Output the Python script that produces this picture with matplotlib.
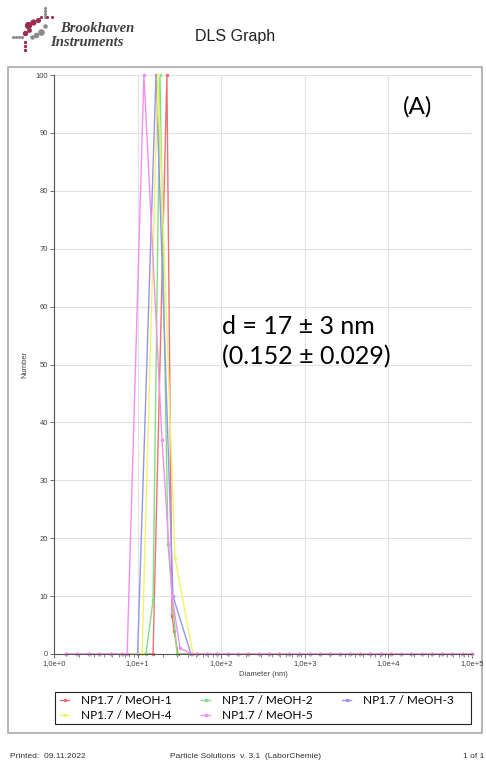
import matplotlib
matplotlib.use('Agg')
import matplotlib.pyplot as plt
from matplotlib.patches import Rectangle
from matplotlib.ticker import FixedLocator, FixedFormatter, LogLocator, NullFormatter

# zero baseline points shared by the runs (nm)
BASE_LO = [1.4, 1.9, 2.6, 3.5, 4.8, 6.5]
BASE_HI = [52, 68, 90, 120, 160, 210, 280, 370, 490, 650, 860, 1150, 1500, 2000,
           2650, 3500, 4600, 6100, 8100, 10700, 14200, 18800, 25000, 33000, 44000,
           58000, 77000, 100000]

# peak region of each run: diameter (nm) and number
red_d = [15.3, 22.4, 25.8, 27.3, 30.4]
red_n = [0, 100, 6.6, 4.0, 0]
green_d = [12.6, 15.3, 18.5, 23.1, 29.6]
green_n = [0, 9.3, 100, 19, 0]
blue_d = [10.0, 16.6, 26.5, 43.5]
blue_n = [0, 100, 10, 0]
yellow_d = [11.3, 17.5, 28.0, 46.0]
yellow_n = [0, 100, 16.6, 0]
magenta_d = [7.5, 11.9, 19.6, 25.8, 32.2, 44.6]
magenta_n = [0, 100, 37, 10, 1, 0]

labels = ['NP1.7 / MeOH-1', 'NP1.7 / MeOH-2', 'NP1.7 / MeOH-3',
          'NP1.7 / MeOH-4', 'NP1.7 / MeOH-5']
colors = ['#f07070', '#80e080', '#9494ee', '#f2f266', '#f090f0']
runs = [(red_d, red_n), (green_d, green_n), (blue_d, blue_n),
        (yellow_d, yellow_n), (magenta_d, magenta_n)]

W, H = 486, 769
fig = plt.figure(figsize=(W / 100, H / 100), dpi=100)

# page decorations in pixel coordinates
bg = fig.add_axes([0, 0, 1, 1])
bg.set_xlim(0, W)
bg.set_ylim(H, 0)
bg.axis('off')
bg.add_patch(Rectangle((8, 67), 474, 666, fill=False, ec='#a8a8a8', lw=1.2))
bg.add_patch(Rectangle((55, 692), 416, 32, fill=False, ec='#222222', lw=0.8))

# logo
maroon = '#9b2c4c'
for x, y, s in [(28, 25, 18), (33, 22, 12), (38, 20, 7), (25, 33, 8), (29, 30, 6)]:
    bg.scatter(x, y, s=s, color=maroon, zorder=3)
for x, y, s in [(41, 32, 14), (36, 35, 9), (45, 26, 5), (32, 37, 5)]:
    bg.scatter(x, y, s=s, color='#8a8a8a', zorder=3)
for y in [8, 11, 14, 17]:
    bg.scatter(45, y, s=1.5, color='#8a8a8a')
for x in [13, 16, 19, 22]:
    bg.scatter(x, 37, s=1.5, color='#8a8a8a')
for y in [42, 46, 50]:
    bg.scatter(25, y, s=2, color=maroon)
for x in [41, 47, 52]:
    bg.scatter(x, 17, s=1.5, color=maroon)
bg.text(60, 28, 'Brookhaven', family='Liberation Serif', style='italic',
        weight='bold', fontsize=10.5, color='#404040', va='center')
bg.text(50, 42, 'Instruments', family='Liberation Serif', style='italic',
        weight='bold', fontsize=10.5, color='#404040', va='center')
bg.text(195, 37, 'DLS Graph', family='Liberation Sans', fontsize=11.5,
        color='#222222', va='center')

# footer
bg.text(10, 757, 'Printed:  09.11.2022', family='Liberation Sans', fontsize=6,
        color='#333333', va='center')
bg.text(245, 757, 'Particle Solutions  v. 3.1  (LaborChemie)', family='Liberation Sans',
        fontsize=6, color='#333333', va='center', ha='center')
bg.text(484, 757, '1 of 1', family='Liberation Sans', fontsize=6,
        color='#333333', va='center', ha='right')

# main plot
ax = fig.add_axes([54 / W, 1 - 654 / H, (472 - 54) / W, (654 - 75) / H])
handles = []
for (d, n), c, lab in zip(runs, colors, labels):
    xs = BASE_LO + d + BASE_HI
    ys = [0] * len(BASE_LO) + n + [0] * len(BASE_HI)
    h, = ax.plot(xs, ys, color=c, lw=1.0, marker='o', ms=1.6, label=lab, clip_on=False)
    handles.append(h)

ax.set_xscale('log')
ax.set_xlim(1, 1e5)
ax.set_ylim(0, 100)
ax.grid(True, which='major', color='#e2e2e2', lw=0.8)
ax.set_axisbelow(True)
for s in ['top', 'right']:
    ax.spines[s].set_visible(False)
for s in ['left', 'bottom']:
    ax.spines[s].set_color('#555555')
    ax.spines[s].set_linewidth(0.8)

ax.set_yticks(range(0, 101, 10))
ax.xaxis.set_major_locator(FixedLocator([1, 10, 100, 1e3, 1e4, 1e5]))
ax.xaxis.set_major_formatter(FixedFormatter(['1,0e+0', '1,0e+1', '1,0e+2',
                                             '1,0e+3', '1,0e+4', '1,0e+5']))
ax.xaxis.set_minor_locator(LogLocator(base=10, subs=range(2, 10), numticks=20))
ax.xaxis.set_minor_formatter(NullFormatter())
ax.tick_params(axis='both', which='major', length=3, width=0.6, color='#555555',
               labelsize=5.5, labelcolor='#444444', pad=1.5)
ax.tick_params(axis='x', which='minor', length=2, width=0.5, color='#555555')
for t in ax.get_xticklabels() + ax.get_yticklabels():
    t.set_family('Liberation Sans')
ax.set_xlabel('Diameter (nm)', family='Liberation Sans', fontsize=5.5,
              color='#444444', labelpad=3)
ax.set_ylabel('Number', family='Liberation Sans', fontsize=5.5,
              color='#444444', labelpad=5)

ax.text(418, 107, '(A)', transform=bg.transData, family='Lato', fontsize=17.5,
        va='center', ha='center')
ax.text(222, 327, 'd = 17 ± 3 nm', transform=bg.transData, family='Lato',
        fontsize=18, va='center')
ax.text(222, 357, '(0.152 ± 0.029)', transform=bg.transData, family='Lato',
        fontsize=18, va='center')

# legend: row-wise order 1,2,3 / 4,5
order = [0, 3, 1, 4, 2]
leg = fig.legend([handles[i] for i in order], [labels[i] for i in order],
                 ncol=3, loc='center left',
                 bbox_to_anchor=(60 / W, 1 - 708 / H),
                 frameon=False, prop={'family': 'Lato', 'size': 8.5},
                 handlelength=0.8, handletextpad=0.95, labelspacing=0.35,
                 borderpad=0.0, columnspacing=2.5, borderaxespad=0)

fig.savefig('out.png', dpi=100)
